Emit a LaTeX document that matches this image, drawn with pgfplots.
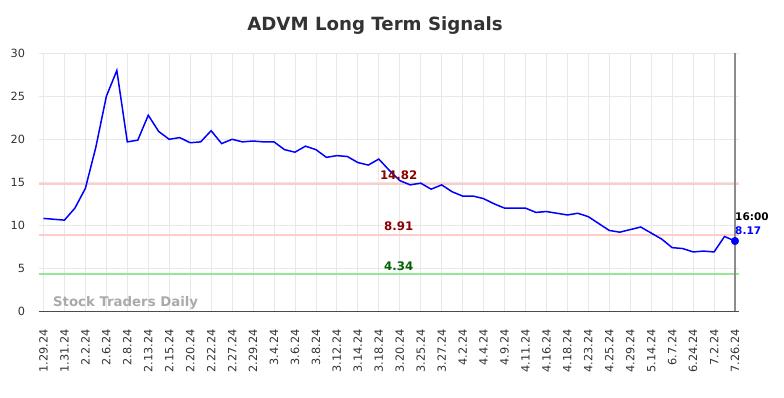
\documentclass[border=0pt]{standalone}
\usepackage{pgfplots}
\pgfplotsset{compat=1.18}
\usepackage{pgfplotstable}
\usepackage{fontspec}
\setmainfont{DejaVu Sans}
\definecolor{gridc}{RGB}{232,232,232}
\definecolor{redline}{RGB}{255,204,204}
\definecolor{greenline}{RGB}{150,230,150}
\definecolor{darkred}{RGB}{139,0,0}
\definecolor{darkgreen}{RGB}{0,100,0}
\definecolor{titlec}{RGB}{51,51,51}
\definecolor{wmark}{RGB}{170,170,170}
\pgfplotstableread{
i v
0 10.8
1 10.7
2 10.6
3 12.0
4 14.3
5 19.1
6 25.0
7 28.0
8 19.7
9 19.9
10 22.8
11 20.9
12 20.0
13 20.2
14 19.6
15 19.7
16 21.0
17 19.5
18 20.0
19 19.7
20 19.8
21 19.7
22 19.7
23 18.8
24 18.5
25 19.2
26 18.8
27 17.9
28 18.1
29 18.0
30 17.3
31 17.0
32 17.7
33 16.4
34 15.2
35 14.7
36 14.9
37 14.2
38 14.7
39 13.9
40 13.4
41 13.4
42 13.1
43 12.5
44 12.0
45 12.0
46 12.0
47 11.5
48 11.6
49 11.4
50 11.2
51 11.4
52 11.0
53 10.2
54 9.4
55 9.2
56 9.5
57 9.8
58 9.1
59 8.4
60 7.4
61 7.3
62 6.9
63 7.0
64 6.9
65 8.7
66 8.17
}\datatable
\begin{document}
\begin{tikzpicture}
\path[use as bounding box] (0,0) rectangle (784pt,398pt);
\node[font=\fontsize{18.2}{21}\selectfont\bfseries, text=titlec] at (375pt,372pt) {ADVM Long Term Signals};
\begin{axis}[
  at={(39.3pt,86.7pt)}, anchor=south west,
  scale only axis, width=700pt, height=258pt,
  xmin=-0.4, xmax=66.41, ymin=0, ymax=30,
  axis line style={draw=none},
  major tick length=0pt,
  xtick={0,2,...,66},
  xticklabels={1.29.24,1.31.24,2.2.24,2.6.24,2.8.24,2.13.24,2.15.24,2.20.24,2.22.24,2.27.24,2.29.24,3.4.24,3.6.24,3.8.24,3.12.24,3.14.24,3.18.24,3.20.24,3.25.24,3.27.24,4.2.24,4.4.24,4.9.24,4.11.24,4.16.24,4.18.24,4.23.24,4.25.24,4.29.24,5.14.24,6.7.24,6.24.24,7.2.24,7.26.24},
  ytick={0,5,...,30},
  xmajorgrids, ymajorgrids,
  grid style={gridc, line width=0.8pt},
  tick label style={font=\fontsize{11.3}{13}\selectfont, text=titlec},
  xticklabel style={rotate=90, anchor=east, inner sep=0pt},
  xticklabel shift=18pt,
  yticklabel style={inner sep=0pt},
  yticklabel shift=14pt,
  /pgf/number format/assume math mode=true,
  clip=false,
]
\addplot[redline, line width=1.8pt] coordinates {(-0.4,14.82) (66.41,14.82)};
\addplot[redline, line width=1.8pt] coordinates {(-0.4,8.91) (66.41,8.91)};
\addplot[greenline, line width=1.8pt] coordinates {(-0.4,4.34) (66.41,4.34)};
\draw[black!70, line width=1pt] (rel axis cs:0,0) -- (rel axis cs:1,0);
\draw[black!45, line width=1.6pt] (axis cs:66,0) -- (axis cs:66,30);
\addplot[blue, line width=1.5pt, mark=none] table[x=i, y=v] {\datatable};
\addplot[blue, only marks, mark=*, mark size=3.8pt] coordinates {(66,8.17)};
\node[font=\fontsize{13.3}{15}\selectfont\bfseries, text=wmark, anchor=base west, inner sep=0pt] at (axis cs:0.9,0.5) {Stock Traders Daily};
\node[font=\fontsize{11.8}{14}\selectfont\bfseries, text=darkred, anchor=south, inner sep=0pt, yshift=3.5pt] at (axis cs:33.9,14.82) {14.82};
\node[font=\fontsize{11.8}{14}\selectfont\bfseries, text=darkred, anchor=south, inner sep=0pt, yshift=3.5pt] at (axis cs:33.9,8.91) {8.91};
\node[font=\fontsize{11.8}{14}\selectfont\bfseries, text=darkgreen, anchor=south, inner sep=0pt, yshift=3.5pt] at (axis cs:33.9,4.34) {4.34};
\node[font=\fontsize{10.5}{12}\selectfont\bfseries, text=blue, anchor=base west, inner sep=0pt, yshift=7pt] at (axis cs:66,8.17) {8.17};
\node[font=\fontsize{10.5}{12}\selectfont\bfseries, text=black, anchor=base west, inner sep=0pt, yshift=20.5pt] at (axis cs:66,8.17) {16:00};
\end{axis}
\end{tikzpicture}
\end{document}
